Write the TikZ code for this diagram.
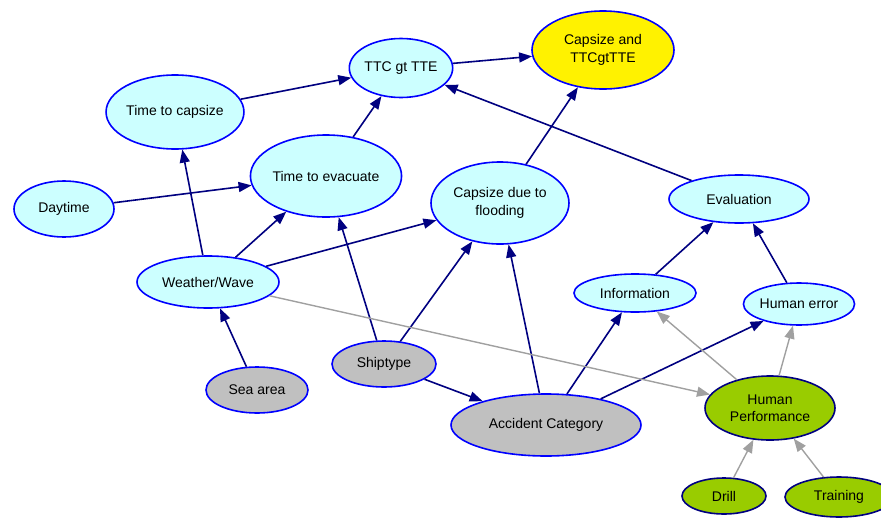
\documentclass[tikz,border=0pt]{standalone}
\usepackage{fontspec}
\setmainfont{Liberation Sans}
\usetikzlibrary{shapes.geometric,arrows.meta,positioning}
\definecolor{paleCyan}{HTML}{CCFFFF}
\definecolor{darkBlue}{HTML}{000080}
\definecolor{brightBlue}{HTML}{0000FF}
\definecolor{silverFill}{HTML}{C0C0C0}
\definecolor{limeFill}{HTML}{99CC00}
\definecolor{softGray}{HTML}{A0A0A0}

\begin{document}
\begin{tikzpicture}[x=1pt,y=-1pt,align=center,font=\fontsize{14}{17.5}\selectfont]
\tikzstyle{chance}=[ellipse,draw=brightBlue,line width=1.6pt,fill=paleCyan,inner sep=0pt]
\tikzstyle{given}=[chance,fill=silverFill]
\tikzstyle{goal}=[chance,fill=yellow]
\tikzstyle{human}=[chance,draw=darkBlue,fill=limeFill]
\tikzstyle{causes}=[-{Triangle[length=13pt,width=10pt]},draw=darkBlue,line width=1.6pt]
\tikzstyle{weak}=[causes,draw=softGray,line width=1.4pt]

\useasboundingbox (0,0) rectangle (881,517);

\node[goal, minimum width=142, minimum height=78] (capttc) at (603,50) {Capsize and\\TTCgtTTE};
\node[chance, minimum width=97, minimum height=59] (ttc) at (401,68) {TTC gt TTE};
\node[chance, minimum width=130, minimum height=74] (tcap) at (175,112) {Time to capsize};
\node[chance, minimum width=140, minimum height=82] (tevac) at (326,176) {Time to evacuate};
\node[chance, minimum width=100, minimum height=56] (day) at (64,209) {Daytime};
\node[chance, minimum width=138, minimum height=82] (flood) at (500,203) {Capsize due to\\flooding};
\node[chance, minimum width=140, minimum height=48] (eval) at (739,199) {Evaluation};
\node[chance, minimum width=142, minimum height=52] (wave) at (208,282) {Weather/Wave};
\node[chance, minimum width=122, minimum height=38] (info) at (635,293) {Information};
\node[chance, minimum width=106, minimum height=42] (herr) at (799,304) {Human error};

\node[given, minimum width=102, minimum height=46] (sea) at (257,390) {Sea area};
\node[given, minimum width=104, minimum height=46] (ship) at (384,364) {Shiptype};
\node[given, minimum width=190, minimum height=62] (acc) at (546,425) {Accident Category};

\node[human, minimum width=130, minimum height=64] (hperf) at (770,408) {Human\\Performance};
\node[human, minimum width=84, minimum height=36] (drill) at (724,496) {Drill};
\node[human, minimum width=108, minimum height=40] (train) at (839,497) {Training};

\path
	(tcap) edge [causes] (ttc)
	(ttc) edge [causes] (capttc)
	(tevac) edge [causes] (ttc)
	(eval) edge [causes] (ttc)
	(flood) edge [causes] (capttc)
	(day) edge [causes] (tevac)
	(wave) edge [causes] (tcap)
	(wave) edge [causes] (tevac)
	(wave) edge [causes] (flood)
	(sea) edge [causes] (wave)
	(ship) edge [causes] (tevac)
	(ship) edge [causes] (flood)
	(ship) edge [causes] (acc)
	(acc) edge [causes] (flood)
	(acc) edge [causes] (info)
	(acc) edge [causes] (herr)
	(info) edge [causes] (eval)
	(herr) edge [causes] (eval);

\path
	(wave) edge [weak] (hperf)
	(hperf) edge [weak] (info)
	(hperf) edge [weak] (herr)
	(drill) edge [weak] (hperf)
	(train) edge [weak] (hperf);
\end{tikzpicture}
\end{document}
